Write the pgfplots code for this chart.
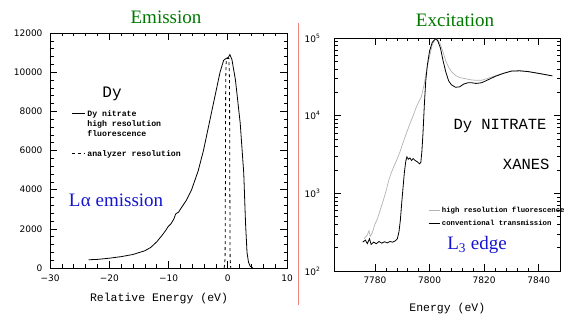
\documentclass[border=0pt]{standalone}
\usepackage{pgfplots}
\pgfplotsset{compat=1.18}
\usepackage{fontspec}
\setmainfont{Liberation Serif}
\newfontfamily\tickfont{DejaVu Sans}
\newfontfamily\monofont{Liberation Mono}
\definecolor{titlegreen}{RGB}{0,120,0}
\definecolor{labelblue}{RGB}{20,20,210}
\definecolor{sepred}{RGB}{240,130,130}
\begin{document}
\begin{tikzpicture}[x=1pt,y=1pt]
\useasboundingbox (0pt,0pt) rectangle (564pt,313pt);
% ---------------- Emission ----------------
\begin{axis}[
  at={(50pt,45pt)}, anchor=south west, scale only axis,
  width=237pt, height=235pt,
  xmin=-30, xmax=10, ymin=0, ymax=12000,
  xtick={-30,-20,-10,0,10}, xticklabels={−30,−20,−10,0,10},
  ytick={0,2000,4000,6000,8000,10000,12000},
  minor x tick num=4, minor y tick num=4,
  tick align=inside, xtick pos=both, ytick pos=both,
  xticklabel pos=left, yticklabel pos=left,
  major tick length=7pt, minor tick length=3.5pt,
  scaled y ticks=false,
  /pgf/number format/1000 sep={}, /pgf/number format/assume math mode=true,
  tick label style={font=\tickfont\fontsize{9}{10}\selectfont},
  yticklabel style={xshift=-4pt}, xticklabel style={yshift=-3pt},
  xlabel={Relative Energy (eV)},
  xlabel style={font=\monofont\fontsize{11.5}{12}\selectfont, at={(axis description cs:0.46,-0.132)}, anchor=center},
  axis line style={line width=0.8pt},
  every tick/.style={black, line width=0.6pt},
  legend cell align=left,
  legend image code/.code={\draw[#1] (0pt,0pt) -- (13pt,0pt);},
  legend style={at={(rel axis cs:0.085,0.685)}, anchor=north west, draw=none, fill=none,
    font=\monofont\bfseries\fontsize{8.2}{8.5}\selectfont, row sep=-1.5pt, inner sep=1pt,
    /tikz/every even column/.append style={column sep=4pt}},
]
\addlegendimage{black, line width=1pt}
\addlegendentry{Dy nitrate}
\addlegendimage{empty legend}
\addlegendentry{high resolution}
\addlegendimage{empty legend}
\addlegendentry{fluorescence}
\addlegendimage{empty legend}
\addlegendentry{\strut}
\addlegendimage{black, line width=0.8pt, dashed}
\addlegendentry{analyzer resolution}
\addplot[black, line width=0.8pt, forget plot] coordinates {
(-23.5,420) (-22,440) (-20,500) (-18,580) (-16,690) (-14,880) (-13,1050) (-12,1330)
(-11,1700) (-10.4,1950) (-10.1,2100) (-9.6,2250) (-9.1,2500) (-8.8,2750) (-8.6,2800) (-8.3,2850)
(-8,3000) (-7,3450) (-6.1,4000) (-5,4950) (-4.1,6000) (-3.4,7000) (-2.7,8000) (-2,9000)
(-1.3,10000) (-0.7,10600) (-0.3,10700) (0.1,10750) (0.35,10900) (0.7,10650) (1.3,9600)
(2.1,7400) (2.7,4850) (3.0,2300) (3.25,800) (3.5,300) (3.8,80) (4.2,20)
};
\addplot[black, line width=0.8pt, dashed, forget plot] coordinates {
(-0.6,0) (-0.45,500) (-0.4,4000) (-0.35,9500) (-0.25,10700) (0.2,10700) (0.3,9500) (0.35,4000) (0.4,500) (0.5,0)
};
\end{axis}
% ---------------- Excitation ----------------
\begin{axis}[
  at={(334pt,42pt)}, anchor=south west, scale only axis,
  width=226.6pt, height=233pt,
  ymode=log, xmin=7765, xmax=7848, ymin=100, ymax=100000,
  xtick={7780,7800,7820,7840},
  minor x tick num=4,
  tick align=inside, xtick pos=both, ytick pos=both,
  xticklabel pos=left, yticklabel pos=left,
  major tick length=7pt, minor tick length=3.5pt,
  /pgf/number format/1000 sep={},
  tick label style={font=\tickfont\fontsize{9}{10}\selectfont},
  yticklabel={\pgfmathparse{int(round(\tick/2.302585))}10\textsuperscript{\pgfmathresult}},
  xticklabel={\pgfmathprintnumber[assume math mode=true]{\tick}},
  yticklabel style={xshift=-10pt}, xticklabel style={yshift=-2pt},
  xlabel={Energy (eV)},
  xlabel style={font=\monofont\fontsize{11.5}{12}\selectfont, at={(axis description cs:0.5,-0.159)}, anchor=center},
  axis line style={line width=0.8pt},
  every tick/.style={black, line width=0.6pt},
  legend cell align=left,
  legend image code/.code={\draw[#1] (0pt,0pt) -- (11pt,0pt);},
  legend style={at={(rel axis cs:0.41,0.29)}, anchor=north west, draw=none, fill=none,
    font=\monofont\bfseries\fontsize{7.3}{7.5}\selectfont, row sep=2.5pt, inner sep=1pt},
]
\addlegendimage{gray!60, line width=0.7pt}
\addlegendentry{high resolution fluorescence}
\addlegendimage{black, line width=0.8pt}
\addlegendentry{conventional transmission}
\addplot[gray!60, line width=0.7pt, forget plot] coordinates {
(7776,260) (7777.2,290) (7777.8,330) (7778.3,280) (7779,310) (7780,400) (7781,480) (7782,620)
(7783,800) (7784,1050) (7785,1450) (7786,1850) (7787,2250) (7788,2700) (7789,3300) (7790,4200)
(7791,5300) (7792,6600) (7793,8200) (7794,10000) (7795,12500) (7796,15000) (7797,17500)
(7798,25000) (7799,40000) (7800,58000) (7801,82000) (7802.2,98000) (7803,95000) (7804,82000)
(7805,65000) (7806,50000) (7807,42000) (7808,37000) (7809.5,33000) (7811,31000) (7813,30000)
(7815,29000) (7817,28500) (7819,28500) (7821,30000) (7824,32500) (7827,35200) (7830,37500)
(7833,37800) (7836,37000) (7839,35500) (7842,34000) (7845,32500)
};
\addplot[black, line width=0.8pt, forget plot] coordinates {
(7775.5,235) (7776.5,250) (7777.2,225) (7778,260) (7778.6,220) (7779.5,235) (7780.5,225)
(7781.5,240) (7782.5,228) (7783.5,238) (7784.5,230) (7785.5,240) (7786.5,235) (7787.5,245)
(7788.2,260) (7788.8,320) (7789.3,450) (7789.8,750) (7790.3,1200) (7790.8,1900) (7791.3,2600)
(7791.7,2950) (7792.2,2750) (7792.8,2850) (7793.4,2650) (7794,2800) (7794.7,2650) (7795.5,2550)
(7796.3,2400) (7796.8,2500) (7797.2,3500) (7797.6,6000) (7798.1,14000) (7798.6,28000)
(7799.2,45000) (7800,68000) (7801,88000) (7802.2,98000) (7803,92000) (7804,74000) (7805,50000)
(7806,36000) (7807,28000) (7808,25000) (7809.5,23200) (7811,23500) (7812.5,25500) (7814,26500)
(7815.5,26500) (7817,26000) (7819,26500) (7821,28500) (7824,32000) (7827,35000) (7830,37500)
(7833,37800) (7836,37000) (7839,35500) (7842,34000) (7845,32500)
};
\end{axis}
% ---------------- annotations ----------------
\draw[sepred, line width=0.8pt] (298pt,290pt) -- (298pt,8pt);
\node[text=titlegreen, font=\fontsize{19}{19}\selectfont] at (166pt,296pt) {Emission};
\node[text=titlegreen, font=\fontsize{19}{19}\selectfont] at (455pt,293pt) {Excitation};
\node[text=labelblue, font=\fontsize{19}{19}\selectfont] at (116pt,113pt) {L\kern0.5pt α emission};
\node[text=labelblue, font=\fontsize{19}{19}\selectfont] at (477pt,68pt) {L\textsubscript{3} edge};
\node[font=\monofont\fontsize{16}{16}\selectfont] at (112pt,219pt) {Dy};
\node[font=\monofont\fontsize{15.5}{16}\selectfont] at (500pt,187pt) {Dy NITRATE};
\node[font=\monofont\fontsize{15.5}{16}\selectfont, anchor=east] at (553pt,149pt) {XANES};
\end{tikzpicture}
\end{document}
